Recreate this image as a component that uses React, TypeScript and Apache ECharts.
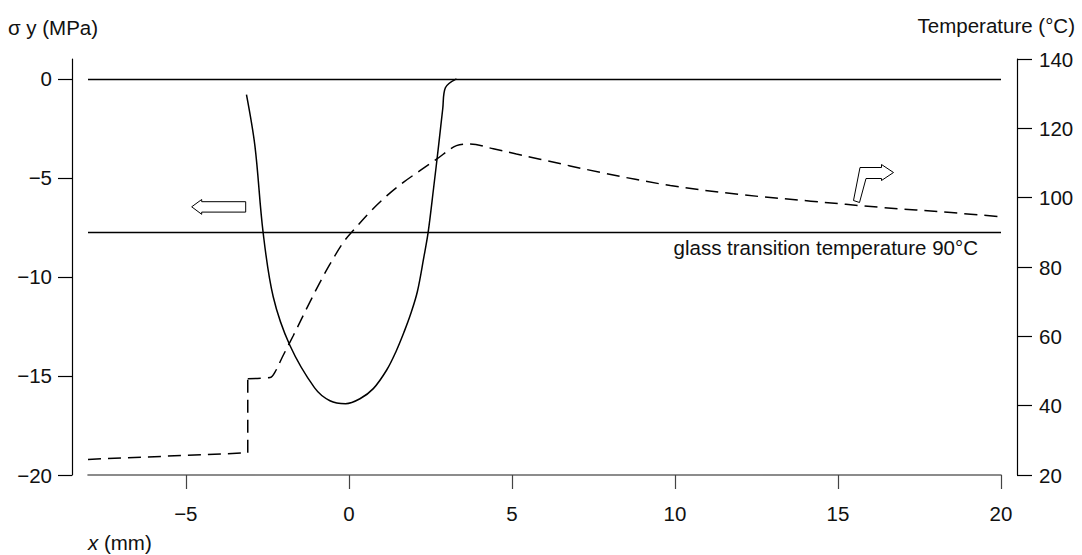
import React, { useEffect, useRef } from "react";
import * as echarts from "echarts";

// Axis tick positions
const xTicks = [-5, 0, 5, 10, 15, 20];
const stressTicks = [-20, -15, -10, -5, 0];
const tempTicks = [20, 40, 60, 80, 100, 120, 140];

// Transverse residual stress σy (MPa) along x (mm)
const stressX = [-3.14, -2.88, -2.63, -2.32, -1.81, -1.05, -0.58, -0.1, 0.34, 0.75, 1.16, 1.45, 1.7, 1.9, 2.1, 2.3, 2.43, 2.6, 2.75, 2.88, 2.96, 3.3];
const stressY = [-0.8, -3.4, -7.75, -11.0, -13.45, -15.6, -16.25, -16.4, -16.15, -15.64, -14.7, -13.75, -12.75, -11.85, -10.75, -9.0, -7.77, -5.5, -3.4, -1.5, -0.45, 0];

// Temperature (°C): flat part with the step at the heat front
const tempStepX = [-8, -3.1, -3.1];
const tempStepY = [24.5, 26.4, 47.8];

// Temperature (°C): heated region and cooling tail
const tempCurveX = [-3.1, -2.42, -2.27, -2.02, -1.71, -1.2, -0.89, -0.58, -0.17, 0.18, 0.64, 1.16, 1.67, 2.18, 2.69, 3.3, 3.71, 4.43, 5.14, 5.86, 7.71, 9.86, 12.01, 14.17, 16.32, 18.47, 20];
const tempCurveY = [47.8, 48.1, 49.6, 54.4, 60.1, 69.8, 75.5, 80.8, 87.1, 91.0, 95.8, 100.5, 104.4, 107.8, 111.1, 115.0, 115.5, 114.1, 112.6, 111.1, 107.3, 103.5, 100.9, 99.0, 97.2, 95.7, 94.5];

const glassTemp = 90;
const glassLabel = "glass transition temperature 90°C";

const FONT = "'Liberation Sans', Arial, sans-serif";
const FS = 20.5;

const zip = (xs: number[], ys: number[]) => xs.map((x, i) => [x, ys[i]]);
const minus = (v: number) => (v < 0 ? "\u2212" + Math.abs(v) : String(v));

export default function App() {
  const ref = useRef<HTMLDivElement>(null);

  useEffect(() => {
    if (!ref.current) return;
    const chart = echarts.init(ref.current, null, { renderer: "svg" });

    const labelStyle = { fontFamily: FONT, fontSize: FS, color: "#111" };

    chart.setOption({
      animation: false,
      backgroundColor: "#fff",
      grid: { left: 88, right: 81, top: 59, bottom: 80 },
      xAxis: {
        type: "value",
        min: -8,
        max: 20,
        splitLine: { show: false },
        axisLine: { show: true, onZero: false, lineStyle: { color: "#666", width: 1.6 } },
        axisTick: { show: true, customValues: xTicks, length: 14, lineStyle: { color: "#444", width: 1.2 } },
        axisLabel: { ...labelStyle, customValues: xTicks, margin: 28, formatter: (v: number) => minus(v) },
      },
      yAxis: [
        {
          type: "value",
          position: "left",
          offset: 16,
          min: -20,
          max: 1,
          splitLine: { show: false },
          axisLine: { show: true, onZero: false, lineStyle: { color: "#000", width: 1.2 } },
          axisTick: { show: true, customValues: stressTicks, length: 14, lineStyle: { color: "#000", width: 1.2 } },
          axisLabel: { ...labelStyle, customValues: stressTicks, margin: 20, formatter: (v: number) => minus(v) },
        },
        {
          type: "value",
          position: "right",
          offset: 16,
          min: 20,
          max: 140,
          interval: 20,
          splitLine: { show: false },
          axisLine: { show: true, onZero: false, lineStyle: { color: "#000", width: 1.2 } },
          axisTick: { show: true, customValues: tempTicks, length: 15, lineStyle: { color: "#000", width: 1.2 } },
          axisLabel: { ...labelStyle, customValues: tempTicks, margin: 22 },
        },
      ],
      series: [
        {
          name: "stress",
          type: "line",
          xAxisIndex: 0,
          yAxisIndex: 0,
          data: zip(stressX, stressY),
          smooth: 0.35,
          showSymbol: false,
          symbol: "none",
          lineStyle: { color: "#000", width: 1.5 },
          markLine: {
            silent: true,
            symbol: "none",
            lineStyle: { color: "#000", width: 1.3, type: "solid" },
            label: { show: false },
            data: [{ yAxis: 0 }],
          },
        },
        {
          name: "tempStep",
          type: "line",
          xAxisIndex: 0,
          yAxisIndex: 1,
          data: zip(tempStepX, tempStepY),
          showSymbol: false,
          symbol: "none",
          lineStyle: { color: "#000", width: 1.5, type: [13, 7] },
        },
        {
          name: "temperature",
          type: "line",
          xAxisIndex: 0,
          yAxisIndex: 1,
          data: zip(tempCurveX, tempCurveY),
          smooth: 0.35,
          showSymbol: false,
          symbol: "none",
          lineStyle: { color: "#000", width: 1.5, type: [13, 7] },
          markLine: {
            silent: true,
            symbol: "none",
            lineStyle: { color: "#000", width: 1.3, type: "solid" },
            label: {
              show: true,
              position: "insideEndBottom",
              distance: [23, 5],
              formatter: glassLabel,
              fontFamily: FONT,
              fontSize: FS,
              color: "#111",
            },
            data: [{ yAxis: glassTemp }],
          },
        },
      ],
      graphic: [
        {
          type: "text",
          x: 8,
          y: 27,
          style: { text: "σ y (MPa)", fontFamily: FONT, fontSize: FS, fill: "#111", verticalAlign: "middle" },
        },
        {
          type: "text",
          x: 1075,
          y: 25,
          style: { text: "Temperature (°C)", fontFamily: FONT, fontSize: FS, fill: "#111", align: "right", verticalAlign: "middle" },
        },
        {
          type: "text",
          x: 88,
          y: 542,
          style: {
            text: "{i|x} (mm)",
            fontFamily: FONT,
            fontSize: FS,
            fill: "#111",
            verticalAlign: "middle",
            rich: { i: { fontStyle: "italic", fontFamily: FONT, fontSize: FS, fill: "#111" } },
          },
        },
        {
          // arrow pointing to the stress axis
          type: "polygon",
          shape: {
            points: [
              [191.7, 206.8],
              [201.7, 199.5],
              [201.7, 201.7],
              [245.7, 201.7],
              [245.7, 212.1],
              [201.7, 212.1],
              [201.7, 214.3],
            ],
          },
          style: { fill: "#fff", stroke: "#000", lineWidth: 1 },
        },
        {
          // bent arrow pointing to the temperature axis
          type: "polygon",
          shape: {
            points: [
              [853.5, 200.5],
              [860, 167.5],
              [881.5, 167.5],
              [881.5, 164.5],
              [893.5, 172.5],
              [881.5, 180.5],
              [881.5, 178.5],
              [866, 178.5],
              [859.5, 202.5],
            ],
          },
          style: { fill: "#fff", stroke: "#000", lineWidth: 1 },
        },
      ],
    });

    return () => chart.dispose();
  }, []);

  return <div ref={ref} style={{ position: "absolute", left: 0, top: 0, width: 1082, height: 555 }} />;
}
